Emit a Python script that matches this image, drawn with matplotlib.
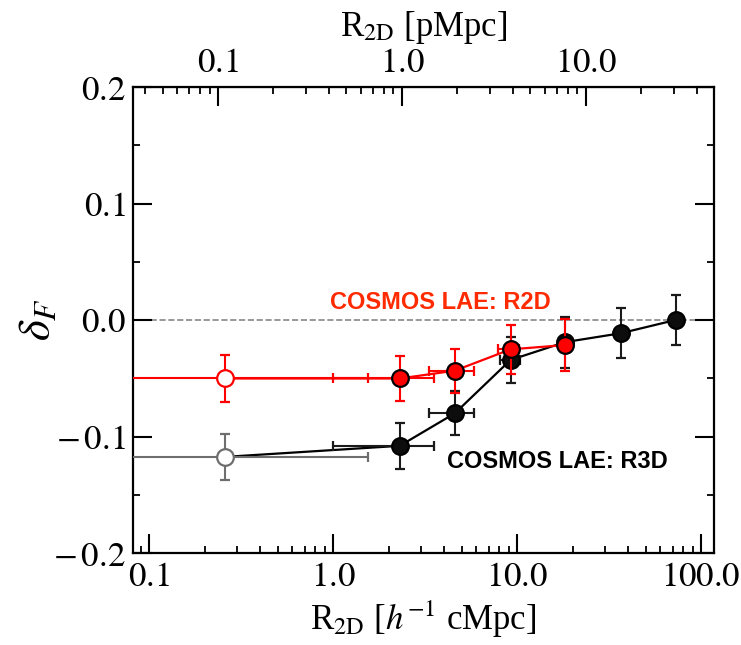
import matplotlib
matplotlib.use("Agg")
import matplotlib.pyplot as plt
from matplotlib.ticker import FuncFormatter, LogLocator, MultipleLocator
import numpy as np

plt.rcParams['font.family'] = ['Liberation Serif', 'DejaVu Serif']
plt.rcParams['mathtext.fontset'] = 'stix'

# ---- data ----
# COSMOS LAE: R2D (red, filled)
r2d_x = [2.30, 4.58, 9.2, 18.2]
r2d_y = [-0.0502, -0.0435, -0.0252, -0.0215]
r2d_yerr = [0.0195, 0.019, 0.021, 0.0227]
r2d_xlo = [1.0, 3.32, 7.87, 17.3]
r2d_xhi = [3.52, 5.83, 10.27, 19.2]

# COSMOS LAE: R2D innermost bin (red, open)
r2d_open_x = [0.258]
r2d_open_y = [-0.0502]
r2d_open_yerr = [0.0205]
r2d_open_xlo = [0.02]
r2d_open_xhi = [1.54]

# COSMOS LAE: R3D (black, filled)
r3d_x = [2.30, 4.58, 9.2, 18.2, 36.5, 72.6]
r3d_y = [-0.108, -0.0801, -0.0343, -0.019, -0.0114, 0.0]
r3d_yerr = [0.0195, 0.019, 0.020, 0.022, 0.0215, 0.0215]
r3d_xlo = [1.0, 3.32, 8.05, 18.2, 36.5, 72.6]
r3d_xhi = [3.54, 5.83, 10.3, 18.2, 36.5, 72.6]

# COSMOS LAE: R3D innermost bin (grey, open)
r3d_open_x = [0.258]
r3d_open_y = [-0.1175]
r3d_open_yerr = [0.0195]
r3d_open_xlo = [0.02]
r3d_open_xhi = [1.54]

# conversion h^-1 cMpc -> pMpc
cmpc_per_pmpc = 2.36

xticks_bottom = [0.1, 1.0, 10.0, 100.0]
xticks_top = [0.1, 1.0, 10.0]
yticks = [-0.2, -0.1, 0.0, 0.1, 0.2]

RED = '#ff0000'
GREY = '#6e6e6e'


def xerr_of(x, lo, hi):
    x = np.asarray(x); lo = np.asarray(lo); hi = np.asarray(hi)
    return [x - lo, hi - x]


fig = plt.figure(figsize=(7.41, 6.45), dpi=100)
ax = fig.add_axes([133 / 741, 1 - 553 / 645, 581 / 741, 466 / 645])
ax.set_xscale('log')

ax.axhline(0.0, color='#888888', ls='--', lw=1.2, zorder=1)

ebkw = dict(capsize=3.3, elinewidth=1.5, capthick=1.5, ms=12, mew=1.6)

# R3D: line, open grey point, filled black points
ax.plot(r3d_open_x + r3d_x, r3d_open_y + r3d_y, color='black', lw=1.6, zorder=2)
ax.errorbar(r3d_open_x, r3d_open_y, yerr=r3d_open_yerr,
            xerr=xerr_of(r3d_open_x, r3d_open_xlo, r3d_open_xhi),
            fmt='o', color=GREY, mfc='white', mec=GREY, zorder=3, **ebkw)
ax.errorbar(r3d_x, r3d_y, yerr=r3d_yerr, xerr=xerr_of(r3d_x, r3d_xlo, r3d_xhi),
            fmt='o', color='#1a1a1a', mfc='#0d0d0d', mec='black', zorder=3, **ebkw)

# R2D: line, open red point, filled red points
ax.plot(r2d_open_x + r2d_x, r2d_open_y + r2d_y, color=RED, lw=1.6, zorder=4)
ax.errorbar(r2d_open_x, r2d_open_y, yerr=r2d_open_yerr,
            xerr=xerr_of(r2d_open_x, r2d_open_xlo, r2d_open_xhi),
            fmt='o', color=RED, mfc='white', mec=RED, zorder=5, **ebkw)
ax.errorbar(r2d_x, r2d_y, yerr=r2d_yerr, xerr=xerr_of(r2d_x, r2d_xlo, r2d_xhi),
            fmt='o', color=RED, mfc=RED, mec='black', zorder=5, **ebkw)

ax.set_xlim(0.0815, 117.5)
ax.set_ylim(-0.2, 0.2)


def _fmt(v, p):
    v = 0.0 if abs(v) < 1e-12 else v
    if v < 0:
        return r'$-\,%.1f$' % abs(v)
    return r'$%.1f$' % v


fmt1 = FuncFormatter(_fmt)
ax.set_xticks(xticks_bottom)
ax.xaxis.set_major_formatter(fmt1)
ax.xaxis.set_minor_locator(LogLocator(base=10, subs=np.arange(2, 10), numticks=20))
ax.set_yticks(yticks)
ax.yaxis.set_major_formatter(fmt1)
ax.yaxis.set_minor_locator(MultipleLocator(0.05))

ax.tick_params(which='both', direction='in', top=False, right=True, labelsize=25)
ax.tick_params(which='major', length=13.5, width=1.5)
ax.tick_params(which='minor', length=5, width=1.3)
ax.tick_params(axis='x', which='major', pad=6)
ax.tick_params(axis='y', which='major', pad=5)
for s in ax.spines.values():
    s.set_linewidth(1.6)

sec = ax.secondary_xaxis('top', functions=(lambda x: x / cmpc_per_pmpc,
                                           lambda x: x * cmpc_per_pmpc))
sec.set_xticks(xticks_top)
sec.xaxis.set_major_formatter(fmt1)
sec.xaxis.set_minor_locator(LogLocator(base=10, subs=np.arange(2, 10), numticks=20))
sec.tick_params(which='both', direction='in', labelsize=25)
sec.tick_params(which='major', length=13.5, width=1.5, pad=5)
sec.tick_params(which='minor', length=5, width=1.3)
sec.set_xlabel(r'R$_{\rm 2D}$ [pMpc]', fontsize=25, labelpad=8)

ax.set_xlabel(r'R$_{\rm 2D}$ [$h^{-1}$ cMpc]', fontsize=25, labelpad=3)
ax.set_ylabel(r'$\delta_F$', fontsize=32)
ax.yaxis.set_label_coords(-0.128, 0.5)

ax.text(0.339, 0.5386, 'COSMOS LAE: R2D', transform=ax.transAxes, color='#ff2a00',
        fontsize=17, fontweight='bold', family='Liberation Sans', ha='left', va='center')
ax.text(0.540, 0.197, 'COSMOS LAE: R3D', transform=ax.transAxes, color='black',
        fontsize=17, fontweight='bold', family='Liberation Sans', ha='left', va='center')

fig.savefig('out.png', dpi=100)
